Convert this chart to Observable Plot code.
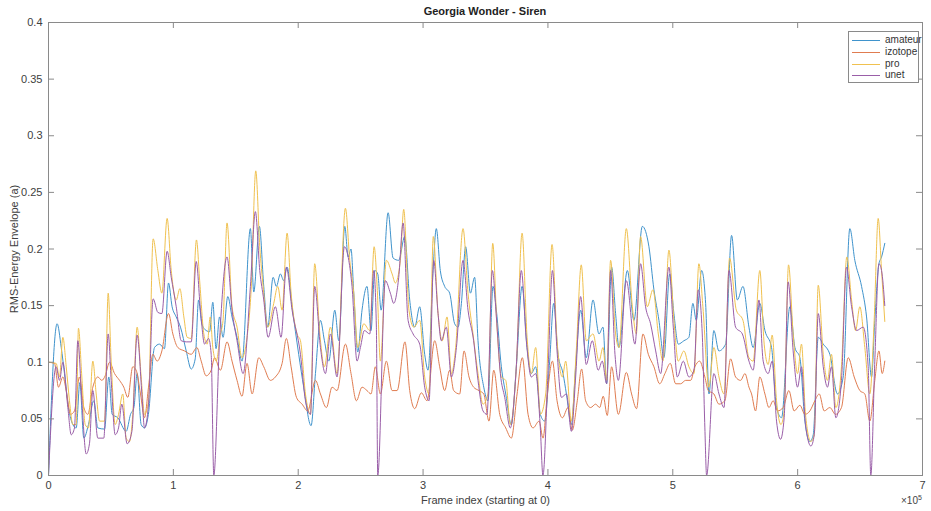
<!DOCTYPE html>
<html><head><meta charset="utf-8">
<script src="https://cdn.jsdelivr.net/npm/d3@7"></script>
<script src="https://cdn.jsdelivr.net/npm/@observablehq/plot@0.6"></script>
<style>
body{margin:0;background:#fff;font-family:"Liberation Sans",Arial,sans-serif}
#wrap{position:relative;width:931px;height:511px;overflow:hidden}
#title{position:absolute;left:48px;width:874px;top:5px;text-align:center;font-weight:bold;font-size:11px;color:#222}
#legend{position:absolute;left:848px;top:31px;width:69px;height:50px;border:1px solid #8a8a8a;background:#fff;font-size:10px;color:#333}
.lg{position:absolute;left:3px;height:12px;width:66px}
.lg span.l{position:absolute;left:0;top:6px;width:28px;height:0;border-top:1px solid}
.lg span.t{position:absolute;left:33px;top:0;line-height:12px}
#exp{position:absolute;left:901px;top:494px;font-size:10px;color:#444}
#exp sup{font-size:7px}
</style></head><body>
<div id="wrap"><div id="title"></div><div id="legend"></div><div id="exp">×10<sup>5</sup></div></div>
<script>
const chartTitle = "Georgia Wonder - Siren";
const xLabel = "Frame index (starting at 0)";
const yLabel = "RMS-Energy Envelope (a)";
const seriesNames = ["amateur", "izotope", "pro", "unet"];
const seriesColors = ["#3f93cc", "#e07c50", "#f0c14f", "#9a5ea8"];
const xTicks = [0, 100000, 200000, 300000, 400000, 500000, 600000, 700000];
const xTickLabels = ["0", "1", "2", "3", "4", "5", "6", "7"];
const yTicks = [0, 0.05, 0.1, 0.15, 0.2, 0.25, 0.3, 0.35, 0.4];
const yTickLabels = ["0", "0.05", "0.1", "0.15", "0.2", "0.25", "0.3", "0.35", "0.4"];

// [frame, rms]
const amateur = [[0,0],[6900,0.134],[10200,0.113],[12800,0.090],[16000,0.060],[19500,0.045],[22200,0.042],[25100,0.082],[28300,0.033],[32000,0.045],[36300,0.066],[39500,0.042],[44900,0.041],[48300,0.087],[51000,0.054],[55500,0.051],[62200,0.039],[65700,0.054],[68400,0.060],[71000,0.090],[74200,0.045],[76900,0.042],[80000,0.054],[84900,0.113],[88900,0.116],[92900,0.112],[96100,0.170],[99000,0.149],[102300,0.140],[105700,0.131],[110300,0.110],[114300,0.094],[117500,0.103],[120200,0.155],[122800,0.134],[126300,0.128],[129000,0.127],[131600,0.153],[134200,0.112],[137000,0.140],[139800,0.122],[143600,0.158],[147000,0.140],[151000,0.122],[155000,0.101],[161700,0.218],[164400,0.162],[168900,0.220],[172400,0.167],[175600,0.131],[179900,0.175],[182500,0.167],[185700,0.178],[188400,0.172],[191100,0.184],[195100,0.149],[200400,0.107],[204400,0.078],[210300,0.044],[213800,0.090],[217800,0.137],[221000,0.119],[224500,0.101],[229300,0.146],[232500,0.119],[237300,0.220],[240000,0.193],[242300,0.200],[244500,0.161],[247700,0.109],[251100,0.146],[255100,0.167],[258300,0.128],[261300,0.181],[263700,0.178],[266400,0.146],[272000,0.232],[276000,0.192],[280500,0.190],[285300,0.211],[289300,0.155],[293300,0.131],[297300,0.149],[301300,0.107],[304000,0.093],[308000,0.181],[310600,0.218],[313800,0.181],[317300,0.167],[321300,0.161],[325300,0.134],[328000,0.131],[330700,0.152],[334100,0.202],[337900,0.161],[341300,0.175],[344000,0.119],[348600,0.078],[352000,0.066],[356000,0.167],[358700,0.146],[362700,0.096],[366200,0.072],[370700,0.045],[374700,0.096],[379300,0.167],[383300,0.113],[386700,0.090],[390200,0.096],[393900,0.054],[397400,0.048],[401400,0.101],[404600,0.152],[408100,0.107],[412100,0.090],[414800,0.072],[418800,0.045],[422200,0.096],[426200,0.146],[430700,0.104],[436100,0.155],[440900,0.125],[444100,0.131],[447000,0.081],[451000,0.184],[454200,0.143],[456900,0.113],[463600,0.181],[468900,0.137],[475600,0.220],[480900,0.202],[484900,0.164],[488900,0.137],[492900,0.104],[497500,0.178],[500900,0.143],[504400,0.116],[508900,0.119],[512900,0.122],[516100,0.152],[518800,0.137],[523100,0.181],[526300,0.152],[529000,0.072],[532900,0.128],[536900,0.110],[542300,0.116],[547100,0.212],[551700,0.155],[556200,0.167],[561000,0.131],[564400,0.113],[569700,0.152],[573800,0.128],[579100,0.113],[583100,0.060],[587100,0.051],[593800,0.149],[597800,0.113],[601800,0.104],[605800,0.048],[609800,0.030],[612500,0.036],[616500,0.122],[620500,0.116],[625800,0.107],[631900,0.072],[636500,0.087],[641800,0.218],[645800,0.190],[651200,0.167],[655200,0.140],[659200,0.087],[661800,0.137],[665100,0.187],[667200,0.193],[669800,0.205]];

const izotope = [[0,0.100],[4800,0.099],[8000,0.078],[11500,0.087],[14200,0.075],[17600,0.054],[20800,0.057],[24800,0.087],[28300,0.060],[31500,0.054],[35500,0.078],[39500,0.087],[42700,0.084],[45400,0.088],[48900,0.100],[52900,0.090],[56900,0.084],[60300,0.078],[63500,0.069],[67500,0.096],[70200,0.093],[73700,0.072],[76900,0.051],[80100,0.078],[83600,0.107],[87000,0.101],[90800,0.110],[96100,0.143],[99600,0.125],[103600,0.113],[108900,0.110],[114300,0.107],[118800,0.113],[122300,0.101],[126300,0.088],[130300,0.093],[133000,0.104],[137700,0.093],[143000,0.118],[147000,0.101],[151000,0.084],[155000,0.070],[159000,0.099],[163100,0.072],[168400,0.104],[172400,0.096],[177700,0.084],[181700,0.087],[187100,0.099],[190500,0.121],[194300,0.096],[198600,0.069],[203100,0.063],[207600,0.057],[213800,0.084],[217800,0.072],[222600,0.060],[227100,0.078],[231100,0.075],[237800,0.116],[242300,0.090],[246600,0.066],[251100,0.078],[255100,0.075],[258300,0.072],[261800,0.096],[265800,0.072],[270600,0.101],[275200,0.075],[279200,0.075],[285500,0.118],[289300,0.075],[293300,0.059],[298600,0.073],[303200,0.066],[309300,0.119],[313300,0.096],[317300,0.075],[321300,0.093],[324500,0.075],[329300,0.072],[332800,0.110],[336800,0.087],[340500,0.078],[344800,0.075],[348600,0.072],[352800,0.048],[356600,0.093],[361400,0.054],[366200,0.042],[370700,0.033],[375300,0.072],[379500,0.104],[384100,0.054],[388100,0.042],[392900,0.048],[396100,0.033],[399300,0.069],[403600,0.101],[407300,0.066],[411600,0.051],[416100,0.060],[419500,0.040],[423500,0.066],[427000,0.094],[430200,0.066],[434200,0.060],[438200,0.063],[441400,0.060],[444300,0.070],[447500,0.053],[451000,0.096],[456400,0.054],[462800,0.091],[467000,0.072],[471000,0.059],[476100,0.125],[480400,0.107],[484900,0.096],[489500,0.081],[493700,0.090],[498000,0.099],[502300,0.081],[506300,0.081],[510300,0.084],[514300,0.084],[517700,0.096],[521500,0.101],[525700,0.087],[528400,0.075],[532900,0.072],[537000,0.063],[541700,0.066],[546300,0.103],[550300,0.087],[554300,0.084],[557800,0.090],[561000,0.078],[563100,0.072],[566300,0.057],[569700,0.087],[573800,0.072],[577000,0.060],[580400,0.066],[583900,0.057],[588400,0.060],[593000,0.075],[597200,0.057],[601800,0.062],[605800,0.054],[609800,0.057],[613800,0.066],[617300,0.072],[621300,0.057],[625800,0.060],[630300,0.054],[635100,0.060],[640500,0.104],[645300,0.087],[649800,0.075],[653800,0.072],[657800,0.048],[661800,0.084],[665100,0.110],[667700,0.090],[669800,0.101]];

const pro = [[0,0.100],[6100,0.099],[8800,0.087],[11500,0.122],[14200,0.096],[16800,0.066],[19500,0.045],[22200,0.045],[24000,0.130],[26700,0.087],[29400,0.045],[32000,0.042],[35500,0.101],[38200,0.072],[40900,0.048],[44900,0.048],[47800,0.161],[50200,0.101],[53400,0.045],[56100,0.054],[59500,0.072],[62200,0.033],[64900,0.030],[67500,0.054],[71000,0.131],[74200,0.087],[76900,0.054],[80100,0.066],[83800,0.209],[87600,0.181],[90800,0.161],[95000,0.227],[98300,0.181],[102300,0.155],[105200,0.165],[108400,0.140],[111100,0.122],[114300,0.121],[118500,0.208],[121200,0.170],[124400,0.125],[127100,0.116],[129500,0.140],[131600,0.113],[134300,0.101],[137700,0.125],[139800,0.137],[143000,0.223],[147000,0.149],[151000,0.131],[155000,0.104],[159000,0.122],[162300,0.164],[166000,0.269],[169200,0.202],[171900,0.167],[175600,0.131],[180400,0.152],[183600,0.167],[187100,0.146],[191100,0.214],[194300,0.161],[199100,0.125],[201800,0.119],[205800,0.072],[209800,0.054],[213200,0.187],[217300,0.125],[221000,0.096],[225800,0.131],[231100,0.090],[237800,0.236],[241300,0.190],[244500,0.161],[247700,0.113],[252500,0.134],[257300,0.128],[260800,0.202],[263200,0.167],[265800,0.101],[270600,0.190],[275200,0.178],[277800,0.170],[281800,0.190],[284500,0.235],[288700,0.146],[292500,0.131],[297300,0.137],[301300,0.087],[304800,0.072],[308200,0.211],[312000,0.143],[315400,0.119],[319200,0.140],[322700,0.090],[326100,0.113],[332000,0.218],[336000,0.161],[340000,0.125],[344000,0.090],[348000,0.063],[352000,0.072],[355800,0.205],[359200,0.131],[362700,0.087],[366200,0.084],[369900,0.045],[374700,0.096],[379300,0.214],[383300,0.122],[386700,0.090],[390200,0.113],[393900,0.054],[398200,0.072],[403300,0.204],[407300,0.119],[411600,0.087],[414200,0.101],[418800,0.048],[422700,0.110],[426700,0.186],[430700,0.119],[436100,0.125],[440900,0.101],[444100,0.113],[447000,0.084],[450200,0.190],[454200,0.125],[456900,0.113],[462800,0.218],[467600,0.149],[470800,0.125],[474200,0.211],[479600,0.149],[484100,0.164],[488400,0.125],[492100,0.101],[496900,0.199],[500900,0.137],[504400,0.101],[508900,0.110],[512900,0.096],[517000,0.090],[520900,0.187],[524100,0.149],[528900,0.078],[532900,0.113],[537000,0.087],[541000,0.072],[545500,0.192],[550900,0.146],[556200,0.137],[561000,0.104],[564400,0.101],[569700,0.181],[573200,0.116],[576400,0.098],[579600,0.124],[583100,0.066],[586600,0.045],[589200,0.057],[592700,0.186],[596400,0.125],[599900,0.090],[603100,0.116],[606300,0.054],[610600,0.030],[613300,0.036],[616500,0.168],[620500,0.107],[623900,0.084],[627100,0.107],[630600,0.060],[635100,0.096],[639400,0.193],[643200,0.155],[646400,0.128],[649800,0.149],[653800,0.113],[657800,0.072],[661300,0.137],[664500,0.227],[667200,0.181],[669800,0.136]];

const unet = [[0,0],[6100,0.096],[8800,0.084],[11500,0.100],[15500,0.060],[18200,0.036],[20800,0.042],[23500,0.119],[26700,0.066],[30200,0.019],[32800,0.028],[35500,0.075],[39500,0.033],[44300,0.033],[47800,0.125],[50200,0.084],[53400,0.036],[56100,0.042],[58700,0.063],[63000,0.028],[66800,0.039],[71000,0.124],[74800,0.072],[76900,0.042],[80100,0.063],[83800,0.156],[87600,0.144],[90800,0.143],[95000,0.198],[98300,0.175],[102300,0.149],[106300,0.119],[110300,0.118],[114300,0.118],[118300,0.189],[121700,0.146],[125000,0.116],[128200,0.121],[130300,0.107],[132400,0],[137000,0.119],[143000,0.193],[147000,0.146],[151000,0.119],[155900,0.090],[161700,0.167],[165700,0.233],[169200,0.181],[172400,0.155],[175900,0.122],[181700,0.149],[186300,0.122],[190500,0.184],[195100,0.146],[201800,0.107],[205800,0.066],[209800,0.054],[213200,0.167],[217800,0.113],[221800,0.090],[225800,0.125],[231100,0.087],[237000,0.202],[240500,0.190],[243100,0.167],[247100,0.101],[249800,0.113],[253000,0.128],[257300,0.125],[260500,0.181],[262600,0.131],[263700,0],[269800,0.172],[273800,0.161],[276500,0.152],[280500,0.175],[284000,0.223],[288000,0.137],[292000,0.125],[297300,0.116],[301300,0.078],[304800,0.066],[308500,0.190],[312000,0.143],[314600,0.119],[318600,0.131],[322700,0.087],[326700,0.113],[332000,0.190],[336000,0.146],[340500,0.119],[344000,0.084],[348000,0.057],[351200,0.054],[355500,0.181],[358700,0.140],[361900,0.090],[365400,0.069],[369900,0.042],[374200,0.087],[378700,0.181],[382700,0.119],[386700,0.087],[390200,0.090],[393900,0.042],[396000,0],[400000,0.090],[403600,0.181],[407300,0.110],[410800,0.069],[414800,0.072],[418800,0.039],[422200,0.087],[426200,0.158],[430700,0.098],[435500,0.119],[440300,0.093],[443500,0.101],[447000,0.081],[450200,0.181],[453700,0.107],[456400,0.084],[462800,0.172],[469700,0.116],[474200,0.187],[478200,0.149],[482200,0.134],[486300,0.110],[490300,0.090],[496900,0.184],[500400,0.131],[503600,0.087],[508400,0.101],[512900,0.087],[517000,0.093],[520400,0.164],[523600,0.125],[525700,0.042],[527100,0],[532900,0.090],[537000,0.072],[541000,0.060],[545000,0.181],[550300,0.131],[555700,0.125],[561000,0.101],[564400,0.093],[569000,0.155],[572400,0.101],[576400,0.090],[579600,0.101],[583100,0.048],[586300,0.032],[589200,0.051],[592400,0.171],[596400,0.110],[599900,0.078],[603100,0.096],[606300,0.045],[610600,0.026],[613300,0.036],[616500,0.143],[620500,0.096],[623900,0.078],[627100,0.096],[630600,0.051],[635100,0.084],[639100,0.184],[643200,0.149],[647200,0.128],[652500,0.131],[656500,0.096],[658600,0],[661800,0.101],[665100,0.187],[667200,0.181],[669800,0.150]];

const seriesData = [amateur, izotope, pro, unet];
const rows = [];
seriesData.forEach((arr, i) => arr.forEach(([frame, rms]) => rows.push({series: seriesNames[i], frame, rms})));

const frameW = 931 - 48 - 9, frameH = 511 - 22 - 36, tick = 6, axisGray = "#8a8a8a";

const plot = Plot.plot({
  width: 931, height: 511,
  marginTop: 22, marginLeft: 48, marginRight: 9, marginBottom: 36,
  style: {fontFamily: "'Liberation Sans', Arial, sans-serif", fontSize: "11px", color: "#404040", background: "white", overflow: "visible"},
  x: {domain: [0, 700000]},
  y: {domain: [0, 0.4]},
  color: {domain: seriesNames, range: seriesColors},
  marks: [
    Plot.line(rows, {x: "frame", y: "rms", z: "series", stroke: "series", curve: "monotone-x", strokeWidth: 1}),
    Plot.frame({stroke: axisGray}),
    Plot.tickX(xTicks, {x: d => d, stroke: axisGray, insetTop: frameH - tick}),
    Plot.tickX(xTicks, {x: d => d, stroke: axisGray, insetBottom: frameH - tick}),
    Plot.tickY(yTicks, {y: d => d, stroke: axisGray, insetRight: frameW - tick}),
    Plot.tickY(yTicks, {y: d => d, stroke: axisGray, insetLeft: frameW - tick}),
    Plot.axisX(xTicks, {anchor: "bottom", tickSize: 0, tickPadding: 6, tickFormat: d => xTickLabels[xTicks.indexOf(d)], label: xLabel, labelAnchor: "center", labelArrow: "none", labelOffset: 28}),
    Plot.axisY(yTicks, {anchor: "left", tickSize: 0, tickPadding: 6, tickFormat: d => yTickLabels[yTicks.indexOf(d)], label: yLabel, labelAnchor: "center", labelArrow: "none", labelOffset: 38})
  ]
});
const wrap = document.getElementById("wrap");
wrap.insertBefore(plot, wrap.firstChild);
plot.style.position = "absolute"; plot.style.left = "0"; plot.style.top = "0";
document.getElementById("title").textContent = chartTitle;
const lg = document.getElementById("legend");
seriesNames.forEach((n, i) => {
  const r = document.createElement("div");
  r.className = "lg"; r.style.top = (2 + i * 11.8) + "px";
  r.innerHTML = `<span class="l" style="border-color:${seriesColors[i]}"></span><span class="t">${n}</span>`;
  lg.appendChild(r);
});
</script></body></html>
